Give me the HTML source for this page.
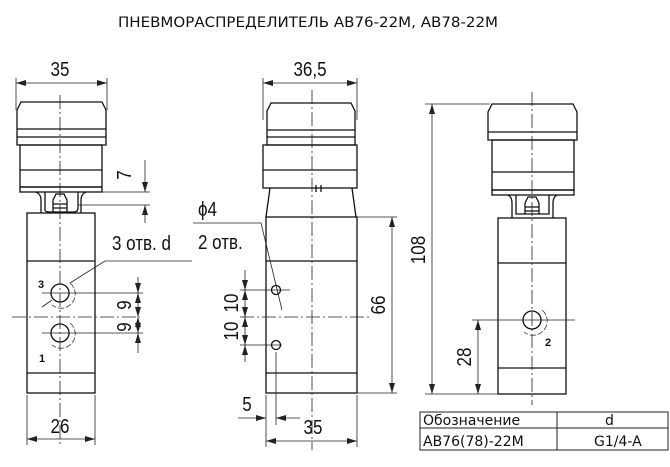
<!DOCTYPE html>
<html><head><meta charset="utf-8"><style>
html,body{margin:0;padding:0;background:#fff;}
svg{display:block;}
text{font-family:"Liberation Sans",sans-serif;fill:#111;}
.v{font-family:"DejaVu Sans","Liberation Sans",sans-serif;}
</style></head><body>
<svg width="670" height="467" viewBox="0 0 670 467" xmlns="http://www.w3.org/2000/svg">
<defs>
<marker id="a" viewBox="0 0 10 6" refX="10" refY="3" markerWidth="10" markerHeight="6" orient="auto-start-reverse" markerUnits="userSpaceOnUse"><path d="M0,0 L10,3 L0,6 z" fill="#222"/></marker>
</defs>
<text class="v" x="118" y="27" font-size="14" textLength="380" lengthAdjust="spacingAndGlyphs">ПНЕВМОРАСПРЕДЕЛИТЕЛЬ АВ76-22М, АВ78-22М</text>

<g stroke="#111" fill="none" stroke-width="1.3">
<path d="M17,110 L21,102 L102,102 L106,110 L106,145 L17,145 Z"/>
<line x1="17" y1="129" x2="106" y2="129"/><line x1="17" y1="137" x2="106" y2="137"/>
<rect x="20" y="145" width="82" height="42"/><line x1="20" y1="170" x2="102" y2="170"/>
<rect x="20" y="187" width="82" height="5"/>
<path d="M36,192 Q41,194 41,200 L41,213 M45,192 L45,210 Q45,212 50,212 L74,212 Q78,212 78,208 L78,192 M86,192 Q81,194 81,200 L81,213"/>
<path d="M53,212 L53,200 L56,194 L64,194 L67,200 L67,212 M53,204 L67,204 M53,208 L67,208"/>
<rect x="27" y="213" width="68" height="180"/>
<line x1="27" y1="261" x2="95" y2="261"/><line x1="27" y1="373" x2="95" y2="373"/>
<circle cx="60" cy="293" r="9"/><circle cx="60" cy="333" r="9"/>
<path d="M267,111 L271,103 L351,103 L355,111 L355,145 L267,145 Z"/>
<line x1="267" y1="130" x2="355" y2="130"/><line x1="267" y1="137" x2="355" y2="137"/>
<rect x="263" y="145" width="94" height="43"/><line x1="263" y1="170" x2="357" y2="170"/>
<path d="M270,188 L266,217 M352,188 L356,217"/>
<path d="M316,185 L316,192 M321,185 L321,192"/>
<rect x="266" y="217" width="91" height="176"/>
<line x1="266" y1="261" x2="357" y2="261"/><line x1="266" y1="373" x2="357" y2="373"/>
<circle cx="276" cy="290" r="4.5"/><circle cx="276" cy="345" r="4.5"/>
<path d="M488,112 L492,104 L573,104 L577,112 L577,140 L488,140 Z"/>
<line x1="488" y1="132" x2="577" y2="132"/>
<rect x="492" y="140" width="82" height="50"/><line x1="492" y1="172" x2="574" y2="172"/>
<rect x="492" y="190" width="82" height="5"/>
<path d="M508,195 Q512,197 512,203 L512,218 M516,195 L516,214 L549,214 L549,195 M557,195 Q553,197 553,203 L553,218"/>
<path d="M525,214 L525,203 L528,197 L536,197 L539,203 L539,214 M525,207 L539,207 M525,211 L539,211"/>
<rect x="498" y="218" width="68" height="176"/>
<line x1="498" y1="263" x2="566" y2="263"/><line x1="498" y1="368" x2="566" y2="368"/>
<circle cx="532" cy="320" r="9"/>
</g>

<g stroke="#333" fill="none" stroke-width="0.8" stroke-dasharray="6,2">
<path d="M70,283 A14,14 0 1,1 52,305"/>
<path d="M70,323 A14,14 0 1,1 52,345"/>
<path d="M542,310 A14,14 0 1,1 524,332"/>
</g>

<g stroke="#222" fill="none" stroke-width="0.8" stroke-dasharray="14,3,2,3">
<line x1="60" y1="95" x2="60" y2="445"/>
<line x1="12" y1="317" x2="140" y2="317"/>
<line x1="312" y1="90" x2="312" y2="450"/>
<line x1="240" y1="317" x2="370" y2="317"/>
<line x1="532" y1="92" x2="532" y2="405"/>
</g>

<g stroke="#222" fill="none" stroke-width="0.8">
<line x1="16" y1="78" x2="16" y2="110"/><line x1="107" y1="78" x2="107" y2="110"/>
<line x1="16" y1="83" x2="107" y2="83" marker-start="url(#a)" marker-end="url(#a)"/>
<line x1="102" y1="192" x2="150" y2="192"/><line x1="78" y1="205" x2="150" y2="205"/>
<line x1="145" y1="160" x2="145" y2="192" marker-end="url(#a)"/>
<line x1="145" y1="223" x2="145" y2="205" marker-end="url(#a)"/>
<line x1="42" y1="293" x2="143" y2="293"/><line x1="42" y1="333" x2="143" y2="333"/>
<line x1="138" y1="277" x2="138" y2="293" marker-end="url(#a)"/>
<line x1="138" y1="293" x2="138" y2="317" marker-start="url(#a)" marker-end="url(#a)"/>
<line x1="138" y1="317" x2="138" y2="333" marker-start="url(#a)" marker-end="url(#a)"/>
<line x1="138" y1="353" x2="138" y2="333" marker-end="url(#a)"/>
<polyline points="192,261 105,261 70,283"/>
<line x1="42" y1="307" x2="52" y2="300" />
<line x1="27" y1="395" x2="27" y2="445"/><line x1="95" y1="395" x2="95" y2="445"/>
<line x1="27" y1="439" x2="95" y2="439" marker-start="url(#a)" marker-end="url(#a)"/>
<line x1="263" y1="78" x2="263" y2="120"/><line x1="357" y1="78" x2="357" y2="120"/>
<line x1="263" y1="83" x2="357" y2="83" marker-start="url(#a)" marker-end="url(#a)"/>
<polyline points="193,223 261,223 282,310"/>
<line x1="240" y1="290" x2="290" y2="290"/><line x1="240" y1="345" x2="282" y2="345"/>
<line x1="245" y1="270" x2="245" y2="290" marker-end="url(#a)"/>
<line x1="245" y1="290" x2="245" y2="317" marker-start="url(#a)" marker-end="url(#a)"/>
<line x1="245" y1="317" x2="245" y2="345" marker-start="url(#a)" marker-end="url(#a)"/>
<line x1="245" y1="362" x2="245" y2="345" marker-end="url(#a)"/>
<line x1="357" y1="217" x2="397" y2="217"/><line x1="357" y1="393" x2="397" y2="393"/>
<line x1="392" y1="217" x2="392" y2="393" marker-start="url(#a)" marker-end="url(#a)"/>
<line x1="276" y1="352" x2="276" y2="425"/>
<line x1="238" y1="418" x2="266" y2="418" marker-end="url(#a)"/>
<line x1="300" y1="418" x2="276" y2="418" marker-end="url(#a)"/>
<line x1="266" y1="395" x2="266" y2="447"/><line x1="357" y1="395" x2="357" y2="447"/>
<line x1="266" y1="441" x2="357" y2="441" marker-start="url(#a)" marker-end="url(#a)"/>
<line x1="425" y1="104" x2="490" y2="104"/><line x1="425" y1="394" x2="498" y2="394"/>
<line x1="432" y1="104" x2="432" y2="394" marker-start="url(#a)" marker-end="url(#a)"/>
<line x1="472" y1="320" x2="575" y2="320"/>
<line x1="478" y1="320" x2="478" y2="394" marker-start="url(#a)" marker-end="url(#a)"/>
</g>

<g font-size="20">
<text transform="translate(60,76) scale(0.85,1)" text-anchor="middle">35</text>
<text transform="translate(60,433) scale(0.85,1)" text-anchor="middle">26</text>
<text transform="translate(310,76) scale(0.85,1)" text-anchor="middle">36,5</text>
<text transform="translate(313,434) scale(0.85,1)" text-anchor="middle">35</text>
<text transform="translate(247,411) scale(0.85,1)" text-anchor="middle">5</text>
<text transform="translate(112,250) scale(0.85,1)">3 отв. d</text>
<text transform="translate(198,216) scale(0.85,1)">ϕ4</text>
<text transform="translate(198,249) scale(0.85,1)">2 отв.</text>
<text transform="translate(131,175) rotate(-90) scale(0.85,1)" text-anchor="middle">7</text>
<text transform="translate(131,305) rotate(-90) scale(0.85,1)" text-anchor="middle">9</text>
<text transform="translate(131,327) rotate(-90) scale(0.85,1)" text-anchor="middle">9</text>
<text transform="translate(238,303) rotate(-90) scale(0.85,1)" text-anchor="middle">10</text>
<text transform="translate(238,331) rotate(-90) scale(0.85,1)" text-anchor="middle">10</text>
<text transform="translate(385,305) rotate(-90) scale(0.85,1)" text-anchor="middle">66</text>
<text transform="translate(425,250) rotate(-90) scale(0.85,1)" text-anchor="middle">108</text>
<text transform="translate(471,357) rotate(-90) scale(0.85,1)" text-anchor="middle">28</text>
</g>
<g font-size="11" font-weight="bold">
<text x="38" y="288">3</text><text x="39" y="362">1</text><text x="545" y="346">2</text>
</g>

<g stroke="#222" fill="none" stroke-width="1">
<rect x="420" y="412" width="248" height="38"/>
<line x1="420" y1="428" x2="668" y2="428"/>
<line x1="557" y1="412" x2="557" y2="450"/>
</g>
<g font-size="14" class="v">
<text class="v" x="423" y="425">Обозначение</text>
<text class="v" x="605" y="425">d</text>
<text class="v" x="423" y="446">АВ76(78)-22М</text>
<text class="v" x="594" y="446">G1/4-A</text>
</g>
</svg>
</body></html>
